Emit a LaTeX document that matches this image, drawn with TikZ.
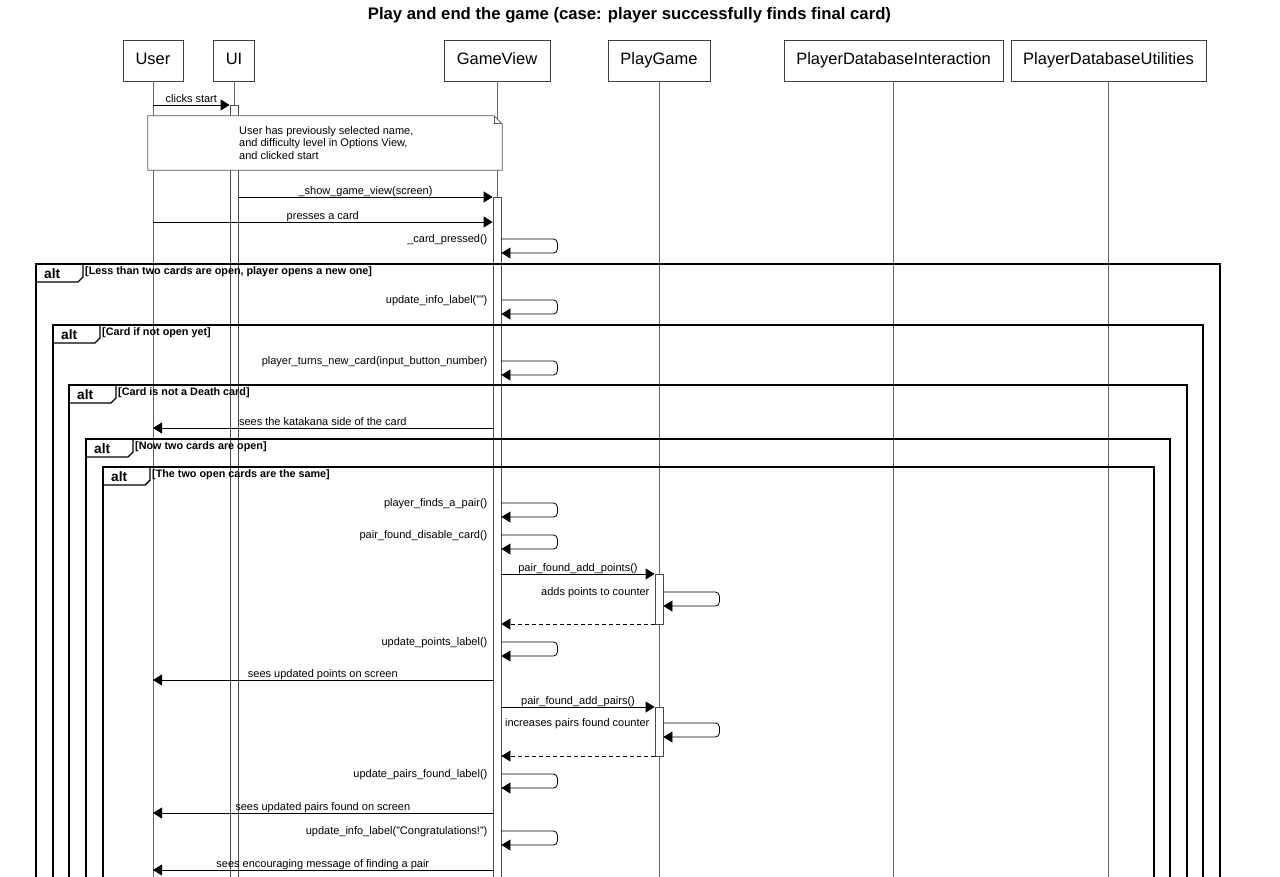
\documentclass[tikz,border=0pt]{standalone}
\usepackage{fontspec}
\setmainfont{Liberation Sans}
\usetikzlibrary{arrows.meta}
\tikzset{
  part/.style={draw=black!75, fill=white, line width=0.9pt, minimum height=41pt, inner sep=0pt, text height=11.8pt, text depth=3.5pt, font=\fontsize{16.5}{19}\selectfont},
  life/.style={draw=black!60, line width=0.8pt},
  actbar/.style={draw=black!70, fill=white, line width=0.8pt, minimum width=8pt, inner sep=0pt, anchor=north},
  msg/.style={draw=black, line width=0.8pt, -{Triangle[length=9pt,width=11pt]}},
  ret/.style={msg, dash pattern=on 4pt off 3pt},
  selfmsg/.style={msg, rounded corners=4pt},
  lbl/.style={font=\fontsize{11}{13}\selectfont, inner sep=0pt},
  albl/.style={lbl, midway, anchor=base, yshift=2.5pt},
  slbl/.style={lbl, anchor=base east, xshift=-5pt, yshift=-3.5pt},
  frame/.style={draw=black, line width=1.4pt},
  alttxt/.style={font=\fontsize{13.7}{16}\selectfont\bfseries, inner sep=0pt},
  condtxt/.style={font=\fontsize{10.8}{13}\selectfont\bfseries, inner sep=0pt},
  notebox/.style={draw=black!65, fill=white, line width=0.8pt},
}
\newcommand\altfr[5]{%
  \draw[frame] (#1,890) |- (#3,#2) -- (#3,890);
  \draw[frame] (#1,#2+18) -- (#1+42,#2+18) -- (#1+47,#2+13) -- (#1+47,#2);
  \node[alttxt, anchor=base west] (#5) at (#1+8,#2+14) {alt};
  \node[condtxt, anchor=base west] (#5c) at (#1+49,#2+10) {#4};
}
\begin{document}
\begin{tikzpicture}[x=1pt,y=-1pt]
\useasboundingbox (0,0) rectangle (1280,876);
\clip (0,0) rectangle (1280,876);
\fill[white] (0,0) rectangle (1280,876);

% title
\node[font=\fontsize{16.7}{19}\selectfont\bfseries, inner sep=0pt] (title) at (629.5,15) {Play and end the game (case: player successfully finds final card)};

% participants
\node[part, minimum width=60pt]  (user) at (153,60.5) {User};
\node[part, minimum width=41pt]  (ui)   at (234,60.5) {UI};
\node[part, minimum width=106pt] (gv)   at (497,60.5) {GameView};
\node[part, minimum width=102pt] (pg)   at (659,60.5) {PlayGame};
\node[part, minimum width=219pt] (pdi)  at (893.5,60.5) {PlayerDatabaseInteraction};
\node[part, minimum width=195pt] (pdu)  at (1108.5,60.5) {PlayerDatabaseUtilities};

% lifelines
\coordinate (userE) at (153,890);
\coordinate (uiE) at (234,890);
\coordinate (gvE) at (497,890);
\coordinate (pgE) at (659,890);
\coordinate (pdiE) at (893.5,890);
\coordinate (pduE) at (1108.5,890);
\draw[life] (user) -- (userE);
\draw[life] (ui) -- (uiE);
\draw[life] (gv) -- (gvE);
\draw[life] (pg) -- (pgE);
\draw[life] (pdi) -- (pdiE);
\draw[life] (pdu) -- (pduE);

% activation bars
\node[actbar, minimum height=790pt] (uiact) at (234,105) {};
\node[actbar, minimum height=700pt] (gvact) at (497,197) {};
\node[actbar, minimum height=50pt] (pgact1) at (659,574) {};
\node[actbar, minimum height=49pt] (pgact2) at (659,707) {};

% frames
\altfr{36}{264}{1220}{[Less than two cards are open, player opens a new one]}{alt1}
\altfr{53}{325}{1203}{[Card if not open yet]}{alt2}
\altfr{69}{385}{1187}{[Card is not a Death card]}{alt3}
\altfr{86}{439}{1170}{[Now two cards are open]}{alt4}
\altfr{103}{467}{1154}{[The two open cards are the same]}{alt5}

% messages
\draw[msg] (user |- 0,105) -- (uiact.west |- 0,105) node[albl] {clicks start};

% note
\node[inner sep=0pt, minimum width=354pt, minimum height=54pt] (note) at (325,143) {};
\draw[notebox] (note.south west) -- (note.north west) -- ([xshift=-8pt]note.north east) -- ([yshift=-8pt]note.north east) -- (note.south east) -- cycle;
\draw[notebox, fill=none] ([xshift=-8pt]note.north east) |- ([yshift=-8pt]note.north east);
\node[lbl, anchor=base west, align=left, font=\fontsize{11}{12.5}\selectfont] (notetxt) at (239,159) {User has previously selected name,\\and difficulty level in Options View,\\and clicked start};

\draw[msg] (uiact.east |- 0,197) -- (gvact.west |- 0,197) node[albl] {\_show\_game\_view(screen)};
\draw[msg] (user |- 0,222) -- (gvact.west |- 0,222) node[albl] {presses a card};

\draw[selfmsg] (gvact.east |- 0,239) -- ++(56,0) |- (gvact.east |- 0,253);
\node[slbl] (m1) at (gvact.west |- 0,239) {\_card\_pressed()};

\draw[selfmsg] (gvact.east |- 0,300) -- ++(56,0) |- (gvact.east |- 0,314);
\node[slbl] (m2) at (gvact.west |- 0,300) {update\_info\_label("")};

\draw[selfmsg] (gvact.east |- 0,361) -- ++(56,0) |- (gvact.east |- 0,375);
\node[slbl] (m3) at (gvact.west |- 0,361) {player\_turns\_new\_card(input\_button\_number)};

\draw[msg] (gvact.west |- 0,428) -- (user |- 0,428) node[albl] {sees the katakana side of the card};

\draw[selfmsg] (gvact.east |- 0,503) -- ++(56,0) |- (gvact.east |- 0,517);
\node[slbl] (m4) at (gvact.west |- 0,503) {player\_finds\_a\_pair()};

\draw[selfmsg] (gvact.east |- 0,535) -- ++(56,0) |- (gvact.east |- 0,549);
\node[slbl] (m5) at (gvact.west |- 0,535) {pair\_found\_disable\_card()};

\draw[msg] (gvact.east |- 0,574) -- (pgact1.west |- 0,574) node[albl] {pair\_found\_add\_points()};
\draw[selfmsg] (pgact1.east |- 0,592) -- ++(56,0) |- (pgact1.east |- 0,606);
\node[slbl] (m6) at (pgact1.west |- 0,592) {adds points to counter};
\draw[ret] (pgact1.west |- 0,624) -- (gvact.east |- 0,624);

\draw[selfmsg] (gvact.east |- 0,642) -- ++(56,0) |- (gvact.east |- 0,656);
\node[slbl] (m7) at (gvact.west |- 0,642) {update\_points\_label()};

\draw[msg] (gvact.west |- 0,680) -- (user |- 0,680) node[albl] {sees updated points on screen};

\draw[msg] (gvact.east |- 0,707) -- (pgact2.west |- 0,707) node[albl] {pair\_found\_add\_pairs()};
\draw[selfmsg] (pgact2.east |- 0,723) -- ++(56,0) |- (pgact2.east |- 0,737);
\node[slbl] (m8) at (pgact2.west |- 0,723) {increases pairs found counter};
\draw[ret] (pgact2.west |- 0,756) -- (gvact.east |- 0,756);

\draw[selfmsg] (gvact.east |- 0,774) -- ++(56,0) |- (gvact.east |- 0,788);
\node[slbl] (m9) at (gvact.west |- 0,774) {update\_pairs\_found\_label()};

\draw[msg] (gvact.west |- 0,813) -- (user |- 0,813) node[albl] {sees updated pairs found on screen};

\draw[selfmsg] (gvact.east |- 0,831) -- ++(56,0) |- (gvact.east |- 0,845);
\node[slbl] (m10) at (gvact.west |- 0,831) {update\_info\_label("Congratulations!")};

\draw[msg] (gvact.west |- 0,870) -- (user |- 0,870) node[albl] {sees encouraging message of finding a pair};
\end{tikzpicture}
\end{document}
